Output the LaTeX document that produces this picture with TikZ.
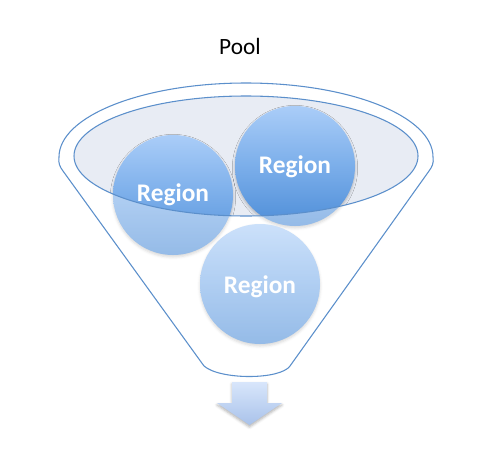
\documentclass[tikz,border=0pt]{standalone}
\usepackage{fontspec}
\setmainfont{Carlito}
\usetikzlibrary{shadows.blur}
\definecolor{lineblue}{HTML}{5B8FCB}
\definecolor{ellfill}{HTML}{E8ECF4}
\definecolor{ctop}{HTML}{AACDF8}
\definecolor{cmid}{HTML}{7BAEEA}
\definecolor{cbot}{HTML}{4E8ED8}
\definecolor{atop}{HTML}{D8E6FB}
\definecolor{abot}{HTML}{A9C2EA}
\tikzset{
  region/.style={circle, minimum size=120pt*0.75, inner sep=0pt,
    top color=ctop, bottom color=cbot, middle color=cmid, draw=none,
    blur shadow={shadow xshift=0pt, shadow yshift=-1.5pt, shadow blur radius=2pt, shadow opacity=25}},
  rlabel/.style={text=white, font=\bfseries\fontsize{19pt}{22pt}\selectfont},
  outline/.style={draw=lineblue, line width=0.8pt},
  funnelpath/.style={},
}
\begin{document}
\begin{tikzpicture}[x=0.75pt, y=-0.75pt]
\useasboundingbox (0,0) rectangle (484,475);
% title
\node[font=\fontsize{17.5pt}{20pt}\selectfont, text=black] (pool) at (240,46) {Pool};
% inner ellipse fill
\fill[ellfill] (246,156) ellipse [x radius=172, y radius=60];
% circles
\node[region] (c1) at (173,195) {};
\node[region] (c2) at (295,166) {};
\node[region] (c3) at (260,284) {};
% white veil over funnel outside the inner ellipse
\fill[white, fill opacity=0.4, even odd rule]
  (59,157) arc[start angle=180, end angle=360, x radius=187, y radius=74]
  .. controls (434,163) and (432,167) .. (429,171)
  -- (290,366) .. controls (280,380) and (220,380) .. (204,366)
  -- (63,171) .. controls (60,167) and (58,163) .. (59,157) -- cycle
  (246,156) ellipse [x radius=172, y radius=60];
% inner ellipse border
\draw[outline] (246,156) ellipse [x radius=172, y radius=60];
% funnel outline
\draw[outline] (59,157) arc[start angle=180, end angle=360, x radius=187, y radius=74]
  .. controls (434,163) and (432,167) .. (429,171)
  -- (290,366) .. controls (280,380) and (220,380) .. (204,366)
  -- (63,171) .. controls (60,167) and (58,163) .. (59,157) -- cycle;
% labels
\node[rlabel] (t1) at (c1.center) {Region};
\node[rlabel] (t2) at ([yshift=-0.75pt]c2.center) {Region};
\node[rlabel] (t3) at ([yshift=-2pt]c3.center) {Region};
% arrow
\shade[top color=atop, bottom color=abot,
  blur shadow={shadow xshift=0pt, shadow yshift=-1.5pt, shadow blur radius=2pt, shadow opacity=30}]
  (232,382) -- (267,382) -- (267,403) -- (282,403) -- (249.5,425) -- (217,403) -- (232,403) -- cycle;
\end{tikzpicture}
\end{document}
